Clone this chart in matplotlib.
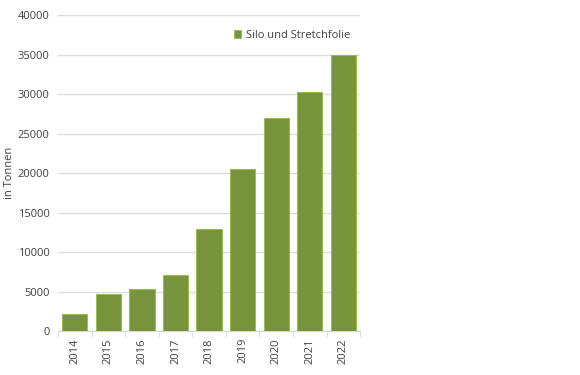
import matplotlib
matplotlib.use('Agg')
import matplotlib.pyplot as plt

years = ['2014', '2015', '2016', '2017', '2018', '2019', '2020', '2021', '2022']
tonnen = [2150, 4650, 5280, 7050, 12870, 20500, 26920, 30210, 34900]
series_name = 'Silo und Stretchfolie'

plt.rcParams['font.family'] = ['Open Sans', 'DejaVu Sans']
plt.rcParams['font.size'] = 8

fig = plt.figure(figsize=(5.8, 3.75), dpi=100)
ax = fig.add_axes([0.1, 0.117, 0.521, 0.843])

x = range(len(years))
ax.bar(x, tonnen, width=0.75, color='#77933C', edgecolor='#9BBB59',
       linewidth=0.8, label=series_name, zorder=3)

ax.set_xlim(-0.5, len(years) - 0.5)
ax.set_ylim(0, 40000)
ax.set_yticks(range(0, 40001, 5000))
ax.set_xticks(list(x))
ax.set_xticklabels(years, rotation=90, color='#404040')
ax.tick_params(axis='y', length=0, colors='#404040', pad=6)
ax.tick_params(axis='x', length=0, pad=5)
# small tick marks between categories
ax.set_xticks([i - 0.5 for i in range(len(years) + 1)], minor=True)
ax.tick_params(axis='x', which='minor', length=4, color='#D9D9D9', direction='out')

ax.grid(axis='y', color='#DDDDDD', linewidth=0.9, zorder=0)
for s in ['top', 'right', 'left']:
    ax.spines[s].set_visible(False)
ax.spines['bottom'].set_color('#D9D9D9')

ax.set_ylabel('in Tonnen', color='#404040', labelpad=2)

ax.legend(loc='upper right', bbox_to_anchor=(1.0, 0.985), frameon=False,
          handlelength=0.7, handleheight=0.7, handletextpad=0.4,
          labelcolor='#404040')

fig.savefig('out.png', dpi=100)
